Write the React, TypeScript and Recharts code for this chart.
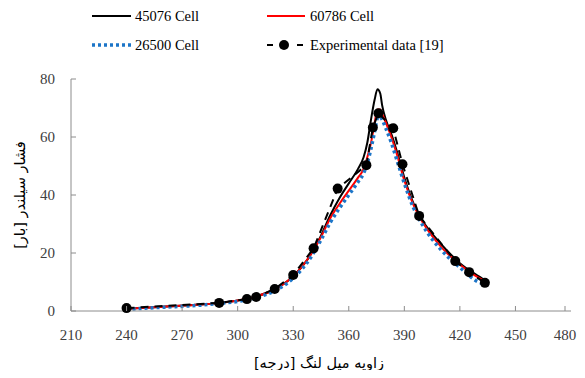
import React from "react";
import { LineChart, Line, XAxis, YAxis } from "recharts";

const simAngles = [240, 260, 280, 290, 300, 310, 320, 330, 340, 345, 350, 355, 360, 365, 368, 370, 372, 374, 375.5, 377, 378, 380, 383, 386, 390, 395, 400, 410, 420, 430, 435];
const cell45076 = [0.8, 1.5, 2.2, 2.8, 3.6, 5, 7.5, 12, 20, 26, 33, 39, 44, 49, 53, 58, 66, 73, 76.5, 75, 71, 66, 61, 55, 46, 37, 31, 23, 16.5, 12, 10];
const cell60786 = [0.8, 1.5, 2.2, 2.8, 3.6, 5, 7.5, 12, 20, 25.5, 32, 37, 41.5, 46, 49, 53, 58, 65, 69.5, 69.5, 68, 65, 60, 54, 45, 36.5, 30.5, 22, 16, 11.5, 10];
const cell26500 = [0.6, 1.3, 2, 2.6, 3.3, 4.6, 7, 11.3, 19, 24.5, 30.5, 35.5, 40, 44.5, 47.5, 51, 56, 62, 66.5, 67, 66, 63, 58, 52, 44, 35.5, 29.5, 21, 15, 10, 9];
const expAngles = [240, 290, 305, 310, 320, 330, 341, 354, 369.5, 373, 376, 384, 389, 398, 417.5, 425, 433.5];
const expValues = [1, 2.8, 4.1, 4.8, 7.6, 12.4, 21.6, 42.2, 50.3, 63.3, 68.2, 63, 50.6, 32.8, 17.2, 13.4, 9.7];
const xTicks = [210, 240, 270, 300, 330, 360, 390, 420, 450, 480];
const yTicks = [0, 20, 40, 60, 80];

const toData = (xs: number[], ys: number[]) => xs.map((x, i) => ({ x, y: ys[i] }));
const d45076 = toData(simAngles, cell45076);
const d60786 = toData(simAngles, cell60786);
const d26500 = toData(simAngles, cell26500);
const dExp = toData(expAngles, expValues);

const serif = "'Times New Roman', 'Liberation Serif', Tinos, 'DejaVu Serif', serif";
const axisColor = "#8c8c8c";

const XTick = (props: any) => {
  const { x, y, payload } = props;
  return (
    <g>
      <line x1={x} x2={x} y1={y} y2={y - 5} stroke={axisColor} strokeWidth={1} />
      <text x={x} y={y + 29} textAnchor="middle" fontFamily={serif} fontSize={15} fill="#404040">
        {payload.value}
      </text>
    </g>
  );
};

const YTick = (props: any) => {
  const { x, y, payload } = props;
  return (
    <g>
      <line x1={x} x2={x + 5} y1={y} y2={y} stroke={axisColor} strokeWidth={1} />
      <text x={x - 16} y={y + 5} textAnchor="end" fontFamily={serif} fontSize={15} fill="#404040">
        {payload.value}
      </text>
    </g>
  );
};

const legendText: React.CSSProperties = {
  position: "absolute",
  fontFamily: serif,
  fontSize: 14.5,
  color: "#000",
  lineHeight: "16px",
  whiteSpace: "nowrap",
};

export default function App() {
  return (
    <div style={{ position: "relative", width: 569, height: 362 }}>
      <style>{`.recharts-surface{overflow:visible}`}</style>
      <LineChart
        width={569}
        height={362}
        margin={{ top: 71, right: 6, left: 0, bottom: 0 }}
      >
        <XAxis
          type="number"
          dataKey="x"
          domain={[210, 480]}
          ticks={xTicks}
          tickSize={0}
          tickMargin={0}
          tick={<XTick />}
          stroke={axisColor}
          height={59}
          allowDuplicatedCategory={false}
        />
        <YAxis
          type="number"
          dataKey="y"
          domain={[0, 80]}
          ticks={yTicks}
          tickSize={0}
          tickMargin={0}
          tick={<YTick />}
          stroke={axisColor}
          width={63}
        />
        <Line data={d45076} dataKey="y" type="monotone" stroke="#000000" strokeWidth={2} dot={false} isAnimationActive={false} />
        <Line data={d60786} dataKey="y" type="monotone" stroke="#ff0000" strokeWidth={2} dot={false} isAnimationActive={false} />
        <Line data={d26500} dataKey="y" type="monotone" stroke="#1c75c8" strokeWidth={3.5} strokeDasharray="3 3" dot={false} isAnimationActive={false} />
        <Line data={dExp} dataKey="y" type="linear" stroke="#000000" strokeWidth={2} strokeDasharray="8 6" dot={{ r: 5, fill: "#000", stroke: "#000", strokeWidth: 0 }} isAnimationActive={false} />
        <text x={13} y={187} transform="rotate(-90 13 187)" textAnchor="middle" dominantBaseline="middle" fontFamily="'DejaVu Sans', sans-serif" fontSize={14.5} fill="#000">
          فشار سیلندر [بار]
        </text>
        <text x={311} y={356} textAnchor="middle" dominantBaseline="middle" fontFamily="'DejaVu Sans', sans-serif" fontSize={14.5} fill="#000">
          زاویه میل لنگ [درجه]
        </text>
      </LineChart>
      {/* legend */}
      <svg style={{ position: "absolute", left: 0, top: 0 }} width={569} height={60}>
        <line x1={84} x2={123} y1={8} y2={8} stroke="#000" strokeWidth={2} />
        <line x1={259} x2={297} y1={8} y2={8} stroke="#ff0000" strokeWidth={2} />
        <line x1={84} x2={125} y1={37} y2={37} stroke="#1c75c8" strokeWidth={3.5} strokeDasharray="3 3" />
        <line x1={259} x2={265} y1={37} y2={37} stroke="#000" strokeWidth={2} />
        <circle cx={276} cy={37} r={5} fill="#000" />
        <line x1={289} x2={295} y1={37} y2={37} stroke="#000" strokeWidth={2} />
      </svg>
      <div style={{ ...legendText, left: 127, top: 0 }}>45076 Cell</div>
      <div style={{ ...legendText, left: 302, top: 0 }}>60786 Cell</div>
      <div style={{ ...legendText, left: 127, top: 29 }}>26500 Cell</div>
      <div style={{ ...legendText, left: 302, top: 29 }}>Experimental data [19]</div>
    </div>
  );
}
